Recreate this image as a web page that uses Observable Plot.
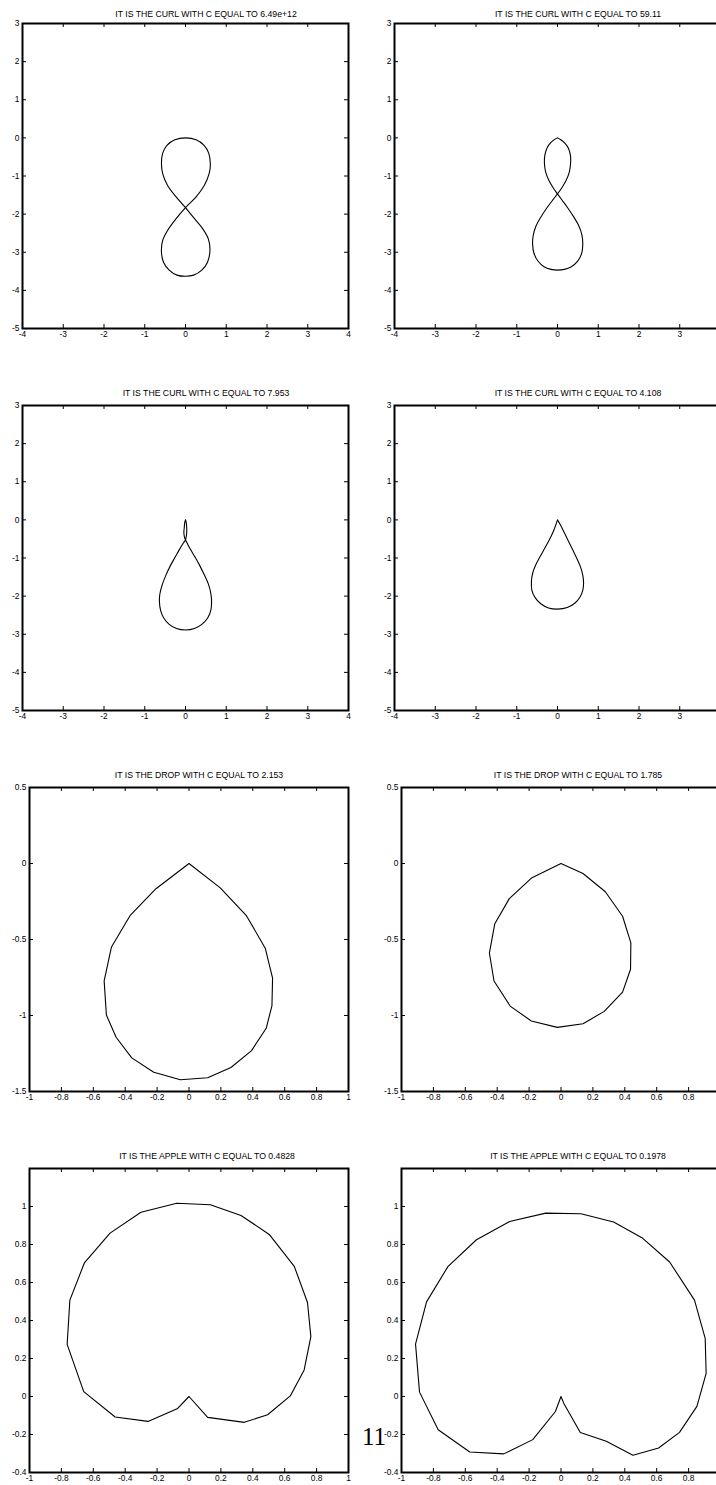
<!DOCTYPE html>
<html><head><meta charset="utf-8">
<script src="https://cdn.jsdelivr.net/npm/d3@7"></script>
<script src="https://cdn.jsdelivr.net/npm/@observablehq/plot@0.6"></script>
<style>
body{margin:0;background:#fff;}
#page{position:relative;width:716px;height:1485px;overflow:hidden;background:#fff;font-family:"Liberation Sans",Arial,sans-serif;}
.panel{position:absolute;}
.panel svg{display:block;overflow:visible;max-width:none !important;}
.ttl{position:absolute;font-size:8.7px;white-space:nowrap;transform:translate(-50%,-50%);line-height:1;color:#000;}
.pg{position:absolute;font-family:"Liberation Serif","Times New Roman",serif;font-size:25px;line-height:1;color:#000;}
</style></head><body><div id="page"></div>
<script>
// ---------- titles ----------
const titles = [
  "IT IS THE CURL WITH C EQUAL TO 6.49e+12",
  "IT IS THE CURL WITH C EQUAL TO 59.11",
  "IT IS THE CURL WITH C EQUAL TO 7.953",
  "IT IS THE CURL WITH C EQUAL TO 4.108",
  "IT IS THE DROP WITH C EQUAL TO 2.153",
  "IT IS THE DROP WITH C EQUAL TO 1.785",
  "IT IS THE APPLE WITH C EQUAL TO 0.4828",
  "IT IS THE APPLE WITH C EQUAL TO 0.1978"
];
const pageNumber = "11";

// ---------- tick values ----------
const curlXTicks = [-4, -3, -2, -1, 0, 1, 2, 3, 4];
const curlYTicks = [-5, -4, -3, -2, -1, 0, 1, 2, 3];
const dropXTicks = [-1, -0.8, -0.6, -0.4, -0.2, 0, 0.2, 0.4, 0.6, 0.8, 1];
const dropYTicks = [-1.5, -1, -0.5, 0, 0.5];
const appleXTicks = [-1, -0.8, -0.6, -0.4, -0.2, 0, 0.2, 0.4, 0.6, 0.8, 1];
const appleYTicks = [-0.4, -0.2, 0, 0.2, 0.4, 0.6, 0.8, 1];
// x tick labels visible on the right-hand panels (the last one falls off the page)
const curlXLabelsRight = [-4, -3, -2, -1, 0, 1, 2, 3];
const dropXLabelsRight = [-1, -0.8, -0.6, -0.4, -0.2, 0, 0.2, 0.4, 0.6, 0.8];
const appleXLabelsRight = [-1, -0.8, -0.6, -0.4, -0.2, 0, 0.2, 0.4, 0.6, 0.8];

// ---------- domains ----------
const curlXDomain = [-4, 4];
const curlYDomain = [-5, 3];
const dropXDomain = [-1, 1];
const dropYDomain = [-1.5, 0.5];
const appleXDomain = [-1, 1];
const appleYDomain = [-0.4, 1.2];

// ---------- curves (x, y) ----------
const curl1 = [
  [0,-1.83],[-0.23,-1.55],[-0.44,-1.25],[-0.56,-0.94],[-0.59,-0.68],[-0.56,-0.4],[-0.45,-0.19],[-0.26,-0.05],
  [0,0],[0.26,-0.05],[0.45,-0.19],[0.57,-0.4],[0.61,-0.7],[0.58,-0.94],[0.46,-1.25],[0.26,-1.55],
  [0,-1.83],[-0.23,-2.12],[-0.44,-2.43],[-0.56,-2.69],[-0.59,-3.0],[-0.54,-3.26],[-0.40,-3.47],[-0.21,-3.6],
  [0,-3.63],[0.2,-3.6],[0.40,-3.47],[0.54,-3.26],[0.6,-2.95],[0.56,-2.65],[0.42,-2.38],[0.22,-2.12],[0,-1.83]
];
const curl2 = [
  [0,0],[0.08,-0.05],[0.18,-0.14],[0.27,-0.28],[0.32,-0.48],[0.32,-0.68],[0.29,-0.9],[0.21,-1.12],[0.10,-1.32],
  [0,-1.47],[-0.11,-1.62],[-0.25,-1.82],[-0.41,-2.08],[-0.53,-2.32],[-0.60,-2.58],[-0.61,-2.8],[-0.58,-3.02],
  [-0.48,-3.23],[-0.33,-3.38],[-0.16,-3.45],[0,-3.47],[0.17,-3.45],[0.34,-3.38],[0.49,-3.24],[0.59,-3.04],
  [0.62,-2.8],[0.60,-2.55],[0.52,-2.3],[0.39,-2.06],[0.24,-1.82],[0.11,-1.63],[0,-1.47],[-0.10,-1.32],
  [-0.21,-1.12],[-0.29,-0.9],[-0.32,-0.68],[-0.31,-0.45],[-0.25,-0.25],[-0.16,-0.12],[-0.07,-0.04],[0,0]
];
const curl3 = [
  [0,0],[0.02,-0.08],[0.03,-0.2],[0.03,-0.32],[0.02,-0.43],[0,-0.52],[-0.06,-0.62],[-0.14,-0.76],[-0.25,-0.97],
  [-0.37,-1.2],[-0.48,-1.45],[-0.57,-1.7],[-0.63,-1.95],[-0.64,-2.15],[-0.61,-2.38],[-0.53,-2.58],[-0.40,-2.74],
  [-0.22,-2.85],[0,-2.89],[0.22,-2.85],[0.40,-2.74],[0.54,-2.58],[0.62,-2.38],[0.64,-2.15],[0.62,-1.92],
  [0.56,-1.68],[0.46,-1.44],[0.35,-1.2],[0.23,-0.97],[0.12,-0.77],[0.05,-0.63],[0,-0.52],[-0.03,-0.43],
  [-0.04,-0.32],[-0.03,-0.2],[-0.02,-0.08],[0,0]
];
const curl4 = [
  [0,0],[0.07,-0.13],[0.16,-0.32],[0.26,-0.54],[0.37,-0.78],[0.47,-1.0],[0.56,-1.22],[0.62,-1.45],[0.64,-1.65],
  [0.62,-1.85],[0.55,-2.03],[0.43,-2.18],[0.24,-2.3],[0,-2.34],[-0.22,-2.31],[-0.41,-2.2],[-0.55,-2.04],
  [-0.63,-1.84],[-0.64,-1.62],[-0.61,-1.4],[-0.53,-1.17],[-0.42,-0.95],[-0.30,-0.72],[-0.19,-0.5],[-0.09,-0.27],[0,0]
];
const drop1 = [
  [0,0],[0.196,-0.16],[0.361,-0.345],[0.478,-0.557],[0.524,-0.754],[0.520,-0.936],[0.484,-1.084],[0.392,-1.231],
  [0.263,-1.342],[0.117,-1.41],[-0.054,-1.423],[-0.221,-1.373],[-0.359,-1.279],[-0.457,-1.143],[-0.518,-0.997],
  [-0.532,-0.772],[-0.486,-0.549],[-0.367,-0.339],[-0.207,-0.166],[0,0]
];
const drop2 = [
  [0,0],[0.138,-0.066],[0.278,-0.186],[0.386,-0.347],[0.438,-0.522],[0.436,-0.696],[0.386,-0.846],[0.271,-0.973],
  [0.138,-1.054],[-0.023,-1.078],[-0.186,-1.036],[-0.319,-0.938],[-0.420,-0.773],[-0.449,-0.589],[-0.415,-0.396],
  [-0.324,-0.231],[-0.182,-0.093],[0,0]
];
const apple1 = [
  [0,0],[-0.071,-0.063],[-0.257,-0.131],[-0.463,-0.108],[-0.66,0.026],[-0.764,0.274],[-0.747,0.507],[-0.656,0.703],
  [-0.495,0.86],[-0.301,0.97],[-0.077,1.017],[0.134,1.009],[0.326,0.953],[0.503,0.853],[0.660,0.685],[0.743,0.495],
  [0.764,0.315],[0.722,0.14],[0.635,0.003],[0.493,-0.096],[0.347,-0.136],[0.117,-0.110],[0,0]
];
const apple2 = [
  [0,0],[-0.035,-0.079],[-0.177,-0.227],[-0.359,-0.302],[-0.572,-0.292],[-0.770,-0.175],[-0.887,0.023],[-0.912,0.276],
  [-0.843,0.498],[-0.708,0.685],[-0.530,0.825],[-0.322,0.921],[-0.096,0.965],[0.125,0.962],[0.33,0.918],[0.507,0.836],
  [0.681,0.708],[0.837,0.507],[0.904,0.306],[0.910,0.122],[0.852,-0.052],[0.743,-0.189],[0.612,-0.271],[0.451,-0.309],
  [0.284,-0.236],[0.121,-0.189],[0.017,-0.035],[0,0]
];

// ---------- layout (frame positions on the page) ----------
const panels = [
  {data: curl1, xd: curlXDomain, yd: curlYDomain, xt: curlXTicks, xl: curlXTicks, yt: curlYTicks, curve: "catmull-rom", left: 22, top: 23, w: 326, h: 305, tx: 206, ty: 14},
  {data: curl2, xd: curlXDomain, yd: curlYDomain, xt: curlXTicks, xl: curlXLabelsRight, yt: curlYTicks, curve: "catmull-rom", left: 394, top: 23, w: 326, h: 305, tx: 578, ty: 14},
  {data: curl3, xd: curlXDomain, yd: curlYDomain, xt: curlXTicks, xl: curlXTicks, yt: curlYTicks, curve: "catmull-rom", left: 22, top: 405, w: 326, h: 305, tx: 206, ty: 393},
  {data: curl4, xd: curlXDomain, yd: curlYDomain, xt: curlXTicks, xl: curlXLabelsRight, yt: curlYTicks, curve: "catmull-rom", left: 394, top: 405, w: 326, h: 305, tx: 578, ty: 393},
  {data: drop1, xd: dropXDomain, yd: dropYDomain, xt: dropXTicks, xl: dropXTicks, yt: dropYTicks, curve: "linear", left: 29, top: 787, w: 319, h: 304, tx: 199, ty: 775},
  {data: drop2, xd: dropXDomain, yd: dropYDomain, xt: dropXTicks, xl: dropXLabelsRight, yt: dropYTicks, curve: "linear", left: 401, top: 787, w: 319, h: 304, tx: 578, ty: 775},
  {data: apple1, xd: appleXDomain, yd: appleYDomain, xt: appleXTicks, xl: appleXTicks, yt: appleYTicks, curve: "linear", left: 29, top: 1168, w: 319, h: 304, tx: 207, ty: 1156},
  {data: apple2, xd: appleXDomain, yd: appleYDomain, xt: appleXTicks, xl: appleXLabelsRight, yt: appleYTicks, curve: "linear", left: 401, top: 1168, w: 319, h: 304, tx: 578, ty: 1156}
];

const page = document.getElementById("page");
const ML = 32, MT = 10, MR = 10, MB = 22, TICK = 4;
const fmt = d => String(d);

panels.forEach((p, i) => {
  const W = ML + p.w + MR, H = MT + p.h + MB;
  const svg = Plot.plot({
    width: W,
    height: H,
    marginLeft: ML, marginTop: MT, marginRight: MR, marginBottom: MB,
    x: {domain: p.xd},
    y: {domain: p.yd},
    style: {fontFamily: "'Liberation Sans', Arial, sans-serif", fontSize: "8.4px", background: "transparent", color: "#000", overflow: "visible", maxWidth: "none"},
    marks: [
      Plot.axisX(p.xl, {anchor: "bottom", tickSize: 0, tickPadding: 3, tickFormat: fmt, label: null, fill: "#000"}),
      Plot.axisY(p.yt, {anchor: "left", tickSize: 0, tickPadding: 3, tickFormat: fmt, label: null, fill: "#000"}),
      Plot.tickX(p.xt, {x: d => d, insetTop: p.h - TICK, stroke: "#000", strokeWidth: 1}),
      Plot.tickX(p.xt, {x: d => d, insetBottom: p.h - TICK, stroke: "#000", strokeWidth: 1}),
      Plot.tickY(p.yt, {y: d => d, insetRight: p.w - TICK, stroke: "#000", strokeWidth: 1}),
      Plot.tickY(p.yt, {y: d => d, insetLeft: p.w - TICK, stroke: "#000", strokeWidth: 1}),
      Plot.line(p.data, {x: d => d[0], y: d => d[1], curve: p.curve, stroke: "#000", strokeWidth: 1.1}),
      Plot.frame({stroke: "#000", strokeWidth: 2})
    ]
  });
  svg.style.width = W + "px";
  svg.style.height = H + "px";
  svg.style.maxWidth = "none";
  const div = document.createElement("div");
  div.className = "panel";
  div.style.left = (p.left - ML) + "px";
  div.style.top = (p.top - MT) + "px";
  div.style.width = W + "px";
  div.style.height = H + "px";
  div.appendChild(svg);
  page.appendChild(div);

  const t = document.createElement("div");
  t.className = "ttl";
  t.style.left = p.tx + "px";
  t.style.top = p.ty + "px";
  t.textContent = titles[i];
  page.appendChild(t);
});

const pg = document.createElement("div");
pg.className = "pg";
pg.style.left = "362px";
pg.style.top = "1424px";
pg.textContent = pageNumber;
page.appendChild(pg);
</script></body></html>
